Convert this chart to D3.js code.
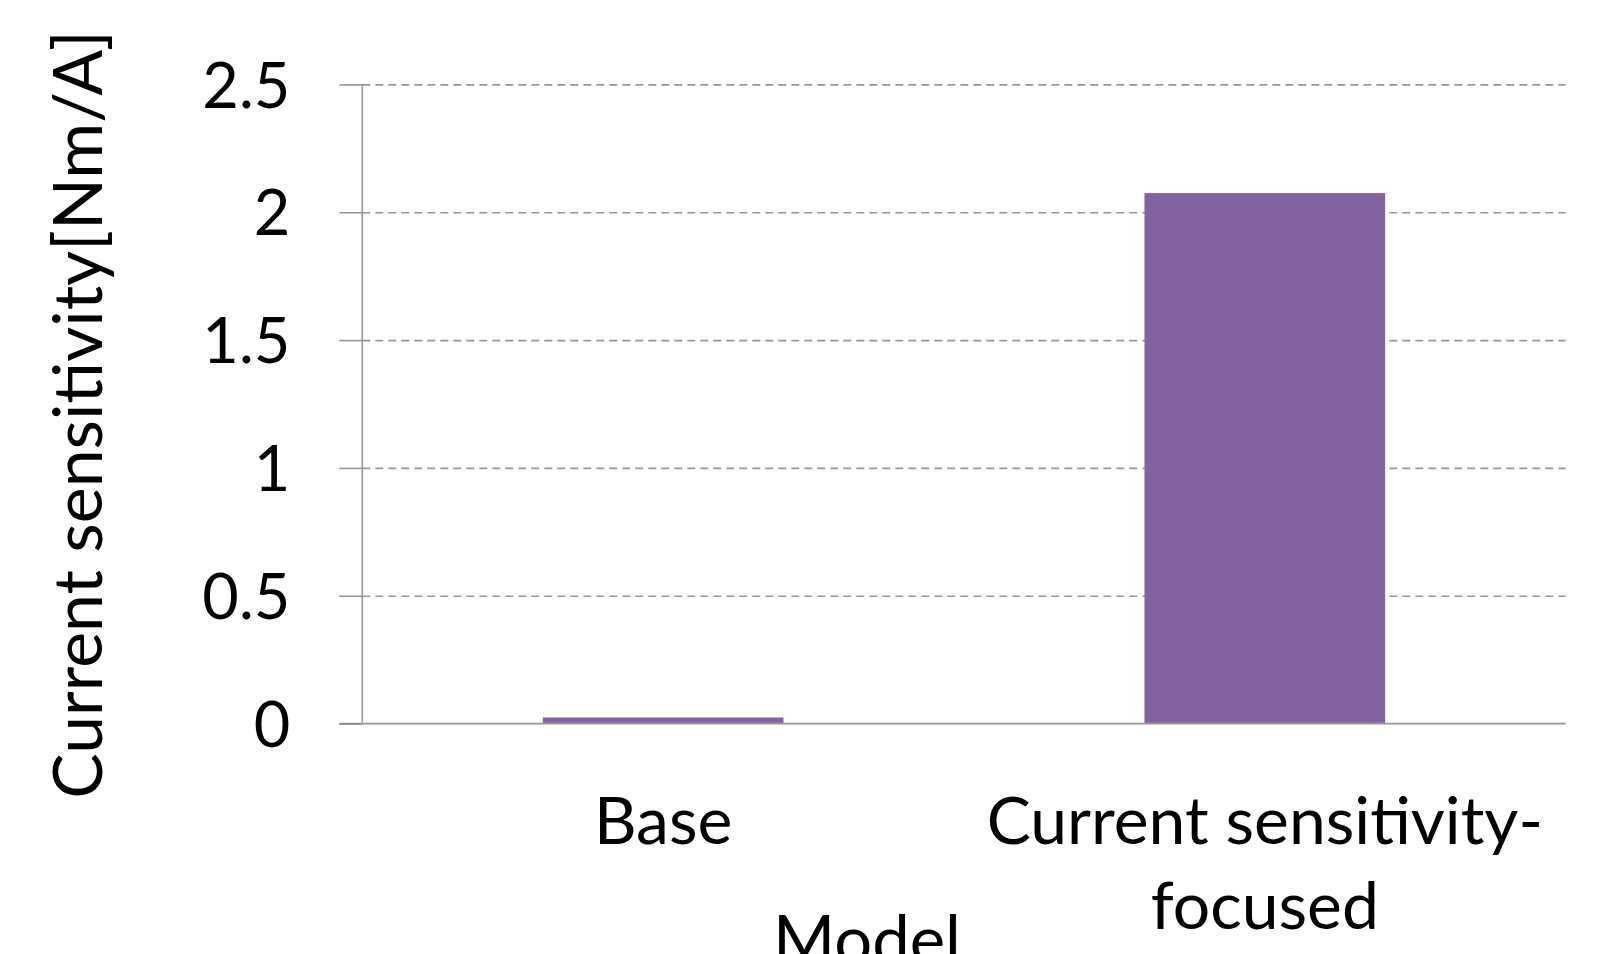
<!DOCTYPE html>
<html>
<head>
<meta charset="utf-8">
<script src="https://cdn.jsdelivr.net/npm/d3@7"></script>
<style>
  body { margin: 0; background: #fff; }
  svg text { font-family: Lato, "Open Sans", sans-serif; fill: #000; }
</style>
</head>
<body>
<div id="chart"></div>
<script>
const categories = ["Base", "Current sensitivity-\nfocused"];
const values = [0.024, 2.075];
const yTicks = [0, 0.5, 1, 1.5, 2, 2.5];
const xTitle = "Model";
const yTitle = "Current sensitivity[Nm/A]";

const W = 1614, H = 954;
const margin = {top: 84.4, right: 48.4, bottom: 230.4, left: 362.3};
const width = W - margin.left - margin.right;
const height = H - margin.top - margin.bottom;

const svg = d3.select("#chart").append("svg")
    .attr("width", W)
    .attr("height", H);

const g = svg.append("g")
    .attr("transform", `translate(${margin.left},${margin.top})`);

const x = d3.scaleBand().domain(categories).range([0, width])
    .paddingInner(0.6).paddingOuter(0.3);
const y = d3.scaleLinear().domain([0, 2.5]).range([height, 0]);

// dashed gridlines
g.append("g")
    .call(d3.axisLeft(y).tickValues(yTicks.filter(d => d > 0)).tickSize(-width).tickFormat(""))
    .call(a => a.select(".domain").remove())
    .call(a => a.selectAll("line")
        .attr("stroke", "#969696")
        .attr("stroke-width", 1.6)
        .attr("stroke-dasharray", "8,5"));

// bars
g.selectAll(".bar")
    .data(categories.map((c, i) => ({c, v: values[i]})))
    .enter().append("rect")
    .attr("class", "bar")
    .attr("x", d => x(d.c))
    .attr("width", x.bandwidth())
    .attr("y", d => y(d.v))
    .attr("height", d => height - y(d.v))
    .attr("fill", "#8064a2");

// y axis
const yAxis = g.append("g")
    .call(d3.axisLeft(y).tickValues(yTicks).tickSize(23).tickPadding(49).tickFormat(d => String(d)));
yAxis.select(".domain").attr("stroke", "#969696").attr("stroke-width", 1.6).attr("d", `M0,0V${height}`);
yAxis.selectAll(".tick line").attr("stroke", "#969696").attr("stroke-width", 1.6);
yAxis.selectAll(".tick text")
    .attr("font-size", 63)
    .attr("dy", "0.36em")
    .style("font-family", "Lato, sans-serif");

// x axis baseline
const xAxis = g.append("g")
    .attr("transform", `translate(0,${height})`)
    .call(d3.axisBottom(x).tickSize(0).tickFormat(""));
xAxis.select(".domain").attr("stroke", "#969696").attr("stroke-width", 1.6)
    .attr("d", `M-23,0H${width}`);

// category labels (wrapped on \n)
xAxis.selectAll(".tick").each(function(d) {
    const t = d3.select(this).append("text")
        .attr("text-anchor", "middle")
        .attr("font-size", 66)
        .attr("fill", "#000");
    d.split("\n").forEach((line, i) => {
        t.append("tspan")
            .attr("x", 0)
            .attr("y", 120.4 + i * 85.5)
            .text(line);
    });
});

// axis titles
svg.append("text")
    .attr("x", 867)
    .attr("y", 964)
    .attr("text-anchor", "middle")
    .attr("font-size", 67)
    .text(xTitle);

svg.append("text")
    .attr("transform", "translate(102,414.5) rotate(-90)")
    .attr("text-anchor", "middle")
    .attr("font-size", 68)
    .text(yTitle);
</script>
</body>
</html>
